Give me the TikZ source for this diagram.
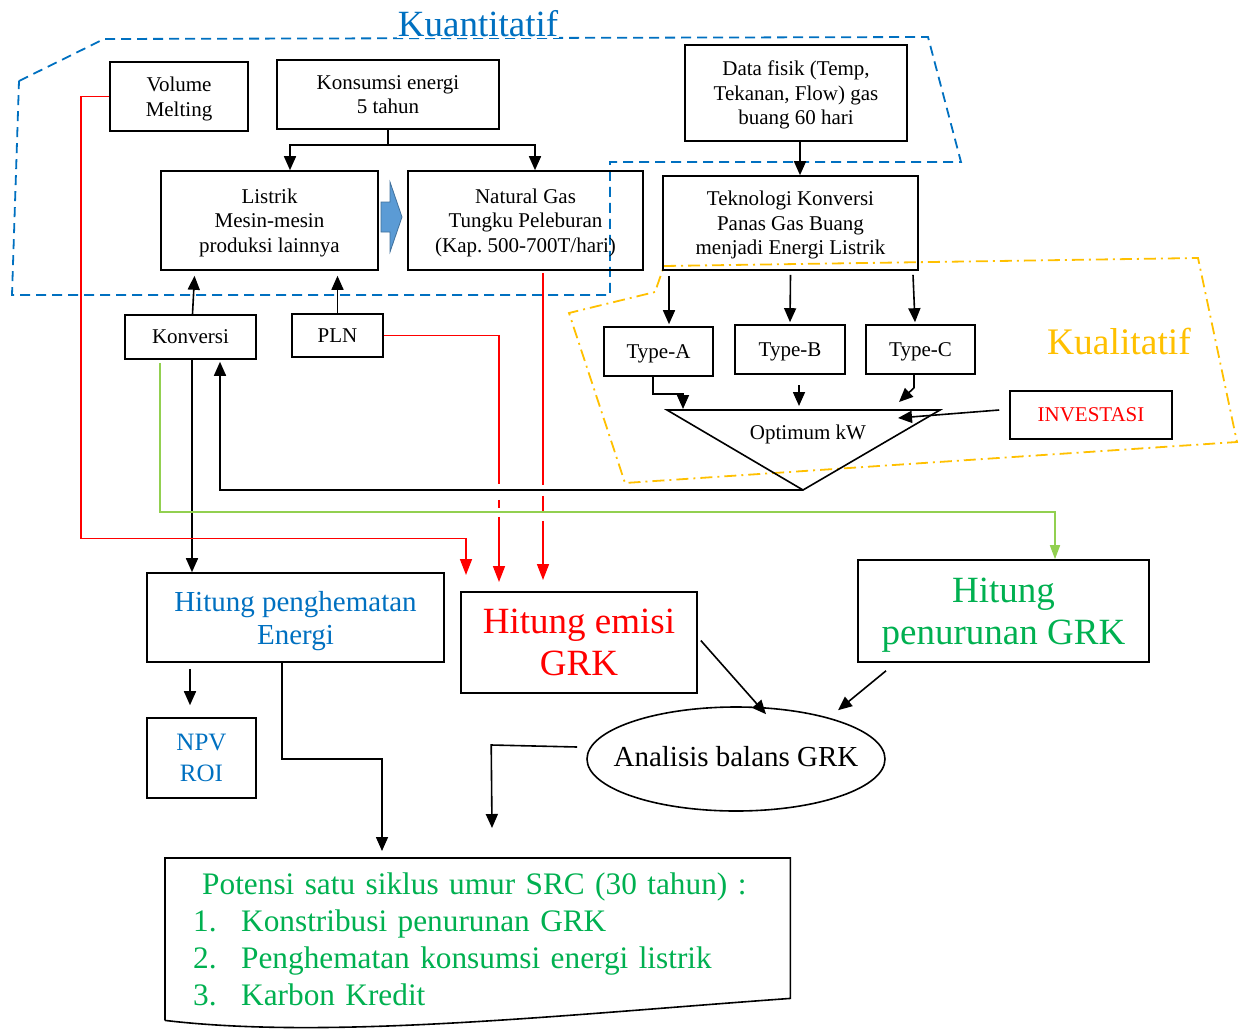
\documentclass[tikz,border=0pt]{standalone}
\usepackage{fontspec}
\setmainfont{Liberation Serif}
\usetikzlibrary{arrows.meta,shapes.geometric}
\definecolor{kblue}{RGB}{0,112,192}
\definecolor{kred}{RGB}{255,0,0}
\definecolor{kgreen}{RGB}{0,176,80}
\definecolor{lgreen}{RGB}{146,208,80}
\definecolor{korange}{RGB}{255,192,0}
\definecolor{arrfill}{RGB}{91,155,213}
\definecolor{arrdraw}{RGB}{65,113,156}
\newcommand\myfs[2]{\fontsize{#1}{#2}\selectfont}
\frenchspacing
\begin{document}
\frenchspacing
\begin{tikzpicture}[x=1pt,y=-1pt,
  box/.style={draw, line width=1.6pt, inner sep=0pt, align=center, text depth=0pt, font=\myfs{21}{24.5}},
  arr/.style={line width=1.6pt, -{Triangle[length=14pt,width=12pt]}},
  rarr/.style={line width=1.6pt, draw=kred, -{Triangle[length=16pt,width=12pt]}, color=kred},
  garr/.style={line width=1.6pt, draw=lgreen, color=lgreen, -{Triangle[length=14pt,width=10pt]}},
  bluezone/.style={draw=kblue, line width=1.8pt, dash pattern=on 10pt off 6pt},
  orangezone/.style={draw=korange, line width=1.8pt, dash pattern=on 12pt off 5pt on 2pt off 5pt},
  plain/.style={line width=1.6pt}
]
\useasboundingbox (0,0) rectangle (1239,1028);

% zones
\draw[bluezone] (19,81) -- (104,39) -- (928,37) -- (961,162) -- (610,162) -- (610,295) -- (12,295) -- cycle;
\draw[orangezone] (664,266) -- (1198,258) -- (1237,442) -- (625,483) -- (569,313) -- (655,292) -- cycle;
\node[fill=white, inner sep=1pt, text=kblue, font=\myfs{37}{40}] (kuan) at (478,24) {Kuantitatif};
\node[text=korange, font=\myfs{37.5}{40}] (kual) at (1119,341) {Kualitatif};

% boxes
\node[box, minimum width=138, minimum height=69] (vol) at (179,96.5) {Volume\\Melting};
\node[box, minimum width=222, minimum height=69] (kon) at (388,94.5) {Konsumsi energi\\5 tahun};
\node[box, minimum width=217, minimum height=99] (lis) at (269.5,220.5) {Listrik\\Mesin-mesin\\produksi lainnya};
\node[box, minimum width=235, minimum height=99] (ng) at (525.5,220.5) {Natural Gas\\Tungku Peleburan\\(Kap. 500-700T/hari)};
\node[box, minimum width=222, minimum height=96] (df) at (796,93) {Data fisik (Temp,\\Tekanan, Flow) gas\\buang 60 hari};
\node[box, minimum width=255, minimum height=94] (tek) at (790.5,223) {Teknologi Konversi\\Panas Gas Buang\\menjadi Energi Listrik};
\node[box, minimum width=131, minimum height=44] (konv) at (190.5,337) {Konversi};
\node[box, minimum width=91, minimum height=43] (pln) at (337.5,335.5) {PLN};
\node[box, minimum width=109, minimum height=49] (ta) at (658.5,351.5) {Type-A};
\node[box, minimum width=110, minimum height=49] (tb) at (790,349.5) {Type-B};
\node[box, minimum width=109, minimum height=49] (tc) at (920.5,349.5) {Type-C};
\node[box, minimum width=162, minimum height=48, text=kred] (inv) at (1091,415) {INVESTASI};
\node[box, minimum width=297, minimum height=89, text=kblue, font=\myfs{29}{33}] (hp) at (295.5,617.5) {Hitung penghematan\\Energi};
\node[box, minimum width=236, minimum height=101, text=kred, font=\myfs{37}{42}] (he) at (579,642.5) {Hitung emisi\\GRK};
\node[box, minimum width=291, minimum height=102, text=kgreen, font=\myfs{37}{42}] (hpg) at (1003.5,611) {Hitung\\penurunan GRK};
\node[box, minimum width=109, minimum height=80, text=kblue, font=\myfs{25}{31}] (npv) at (201.5,758) {NPV\\ROI};
\node[draw, ellipse, line width=1.6pt, inner sep=0pt, minimum width=298, minimum height=104, font=\myfs{29}{33}] (ana) at (736,759) {\makebox[100pt]{\raisebox{5pt}{Analisis balans GRK}}};

% Potensi (document shape)
\node[inner xsep=28pt, inner ysep=0pt, text width=569pt, minimum height=162pt, align=left,
      font=\myfs{31.3}{37}, text=kgreen, anchor=north west] (pot) at (165,858)
 {\hspace*{9pt}Potensi satu siklus umur SRC (30 tahun) :\\
  \makebox[48pt][l]{1.}Konstribusi penurunan GRK\\
  \makebox[48pt][l]{2.}Penghematan konsumsi energi listrik\\
  \makebox[48pt][l]{3.}Karbon Kredit};
\draw[plain] (pot.south west) -- (pot.north west) -- (pot.north east) -- ([yshift=22pt]pot.south east)
  .. controls (560,1015) and (330,1040) .. (pot.south west);

% optimum triangle
\coordinate (otl) at (667,410);
\coordinate (otr) at (940,410);
\coordinate (obot) at (803,490);
\draw[plain] (otl) -- (otr) -- (obot) -- cycle;
\node[font=\myfs{21}{24}] (opt) at (808,434) {Optimum kW};

% block arrow
\fill[arrfill, draw=arrdraw, line width=0.8pt] (381,202) -- (390,202) -- (390,182) -- (402,217) -- (390,252) -- (390,232) -- (381,232) -- cycle;

% coordinates for free ends
\coordinate (kbar) at (388,145);
\coordinate (oa) at (683,409);
\coordinate (obs) at (799,385);
\coordinate (ob) at (799,406);
\coordinate (oc) at (899,402);
\coordinate (oi) at (898,418);
\coordinate (rv) at (466,575);
\coordinate (rp) at (499,582);
\coordinate (rn) at (543,580);
\coordinate (ap) at (492,828);
\coordinate (pp) at (382,851);

% black connectors
\draw[plain] (kon.south) -- (kbar);
\draw[arr] (kbar) -| ([xshift=20.5]lis.north);
\draw[arr] (kbar) -| ([xshift=9.5]ng.north);
\draw[arr] ([xshift=4]df.south) -- ([xshift=9.5]tek.north);
\draw[arr] ([xshift=-121.5,yshift=-5]tek.south) -- ([xshift=10.5,yshift=2]ta.north);
\draw[arr] ([yshift=-4]tek.south) -- ([yshift=2]tb.north);
\draw[arr] ([xshift=122.5,yshift=-4]tek.south) -- ([xshift=-5.5,yshift=2]tc.north);
\draw[arr] ([xshift=-5.5]ta.south) -- ++(0,17) -| (oa);
\draw[arr] (obs) -- (ob);
\draw[arr] ([xshift=-6.5]tc.south) -- ++(0,13) -- (oc);
\draw[arr] ([xshift=-10,yshift=5]inv.west) -- (oi);
\draw[arr] (obot) -| ([xshift=29.5,yshift=-2]konv.south);
\draw[arr] ([xshift=2]konv.north) -- ([xshift=-75,yshift=-5]lis.south);
\draw[arr] (pln.north) -- ([yshift=-5]pln.north |- lis.south);
\draw[arr] ([xshift=1.5]konv.south) -- ([xshift=-103.5]hp.north);
\draw[arr] ([xshift=3,yshift=2]he.east) -- ([xshift=30,yshift=-8]ana.north);
\draw[arr] ([xshift=-117.5,yshift=-8]hpg.south) -- ([xshift=102,yshift=-4]ana.north);
\draw[arr] ([xshift=-9,yshift=12]ana.west) -- ++(-86,-2) -- (ap);
\draw[arr] ([xshift=-13.5]hp.south) -- ++(0,96) -| (pp);
\draw[arr] ([xshift=-105.5,yshift=-6]hp.south) -- ([xshift=-11.5,yshift=12]npv.north);

% green connector
\draw[garr] ([xshift=-30.5,yshift=-3]konv.south) -- ++(0,149) -| ([xshift=51.5]hpg.north);

% red connectors
\draw[rarr] (vol.west) -- ++(-28,0) -- ++(0,442) -| (rv);
\draw[rarr, dash pattern=on 263.5pt off 16pt on 8pt off 9pt on 200pt off 0pt] (pln.east) -| (rp);
\draw[rarr, dash pattern=on 212pt off 11pt on 15pt off 10pt on 200pt off 0pt] ([xshift=17.5,yshift=-2]ng.south) -- (rn);
\end{tikzpicture}
\end{document}
